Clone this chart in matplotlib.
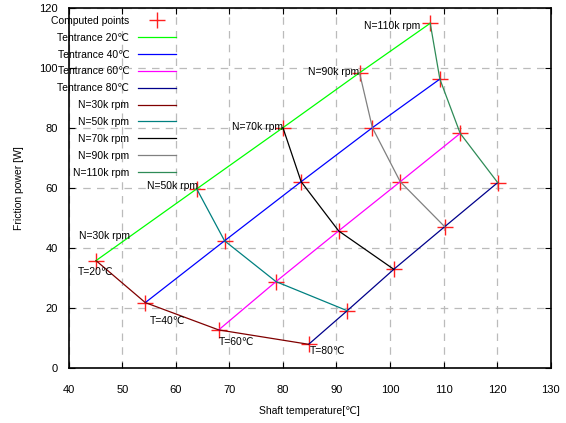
import numpy as np
import matplotlib.pyplot as plt

plt.rcParams['font.family'] = ['Liberation Sans', 'DejaVu Sans']

# ---- data: rows = inlet temperature, cols = speed ----
t_entrance = [20, 40, 60, 80]
speeds = [30, 50, 70, 90, 110]
shaft_temp = np.array([
    [45.1, 63.9, 80.0, 94.3, 107.5],    # T=20
    [54.3, 69.1, 83.4, 96.7, 109.3],    # T=40
    [68.0, 78.7, 90.4, 101.9, 113.1],   # T=60
    [84.8, 92.0, 100.7, 110.2, 120.1],  # T=80
])
friction = np.array([
    [35.9, 59.8, 80.2, 98.5, 115.0],
    [21.9, 42.5, 62.2, 80.2, 96.4],
    [12.8, 28.9, 45.8, 62.2, 78.3],
    [8.0, 19.2, 33.0, 47.2, 61.9],
])

t_colors = ['#00ff00', '#0000ff', '#ff00ff', '#00008b']
n_colors = ['#800000', '#008080', '#000000', '#808080', '#2e8b57']

# label text positions (data coords)
n_label_pos = [(51.5, 44.1), (64.2, 60.9), (80.0, 80.4), (94.3, 98.9), (105.7, 114.1)]
t_label_pos = [(45.0, 32.0), (55.1, 15.9), (68.0, 8.9), (85.1, 5.9)]

fig = plt.figure(figsize=(5.66, 4.23), dpi=100)
ax = fig.add_axes([0.1214, 0.1293, 0.8516, 0.8511])

ax.plot(shaft_temp.ravel(), friction.ravel(), ls='none', marker='+',
        color='#ff2020', ms=11, mew=1.0, label='Computed points', zorder=2)
for i, T in enumerate(t_entrance):
    ax.plot(shaft_temp[i], friction[i], color=t_colors[i], lw=0.9,
            label=f'Tentrance {T}\u2103', zorder=3)
for j, N in enumerate(speeds):
    ax.plot(shaft_temp[:, j], friction[:, j], color=n_colors[j], lw=0.9,
            label=f'N={N}k rpm', zorder=3)

for j, N in enumerate(speeds):
    x, y = n_label_pos[j]
    ax.text(x, y, f'N={N}k rpm', ha='right', va='center', fontsize=7.5, zorder=4)
for i, T in enumerate(t_entrance):
    x, y = t_label_pos[i]
    ax.text(x, y, f'T={T}\u2103', ha='center' if i == 0 else 'left',
            va='center', fontsize=7.5, zorder=4)

ax.set_xlim(40, 130)
ax.set_ylim(0, 120)
ax.set_xticks(np.arange(40, 131, 10))
ax.set_yticks(np.arange(0, 121, 20))
ax.tick_params(direction='in', top=True, right=True, labelsize=8, length=4)
ax.tick_params(axis='x', pad=12)
ax.tick_params(axis='y', pad=8)
ax.grid(True, color='#bbbbbb', ls=(0, (6, 5)), lw=0.9)
ax.set_xlabel('Shaft temperature[\u2103]', fontsize=7.5, labelpad=8)
ax.set_ylabel('Friction power [W]', fontsize=7.5, labelpad=11)
for s in ax.spines.values():
    s.set_linewidth(1.2)

ax.legend(loc='upper right', bbox_to_anchor=(0.2226, 0.979), frameon=False,
          markerfirst=False, fontsize=7.5, handlelength=3.68, handletextpad=0.8,
          labelspacing=0.66, borderpad=0, borderaxespad=0)

fig.savefig('out.png', dpi=100)
